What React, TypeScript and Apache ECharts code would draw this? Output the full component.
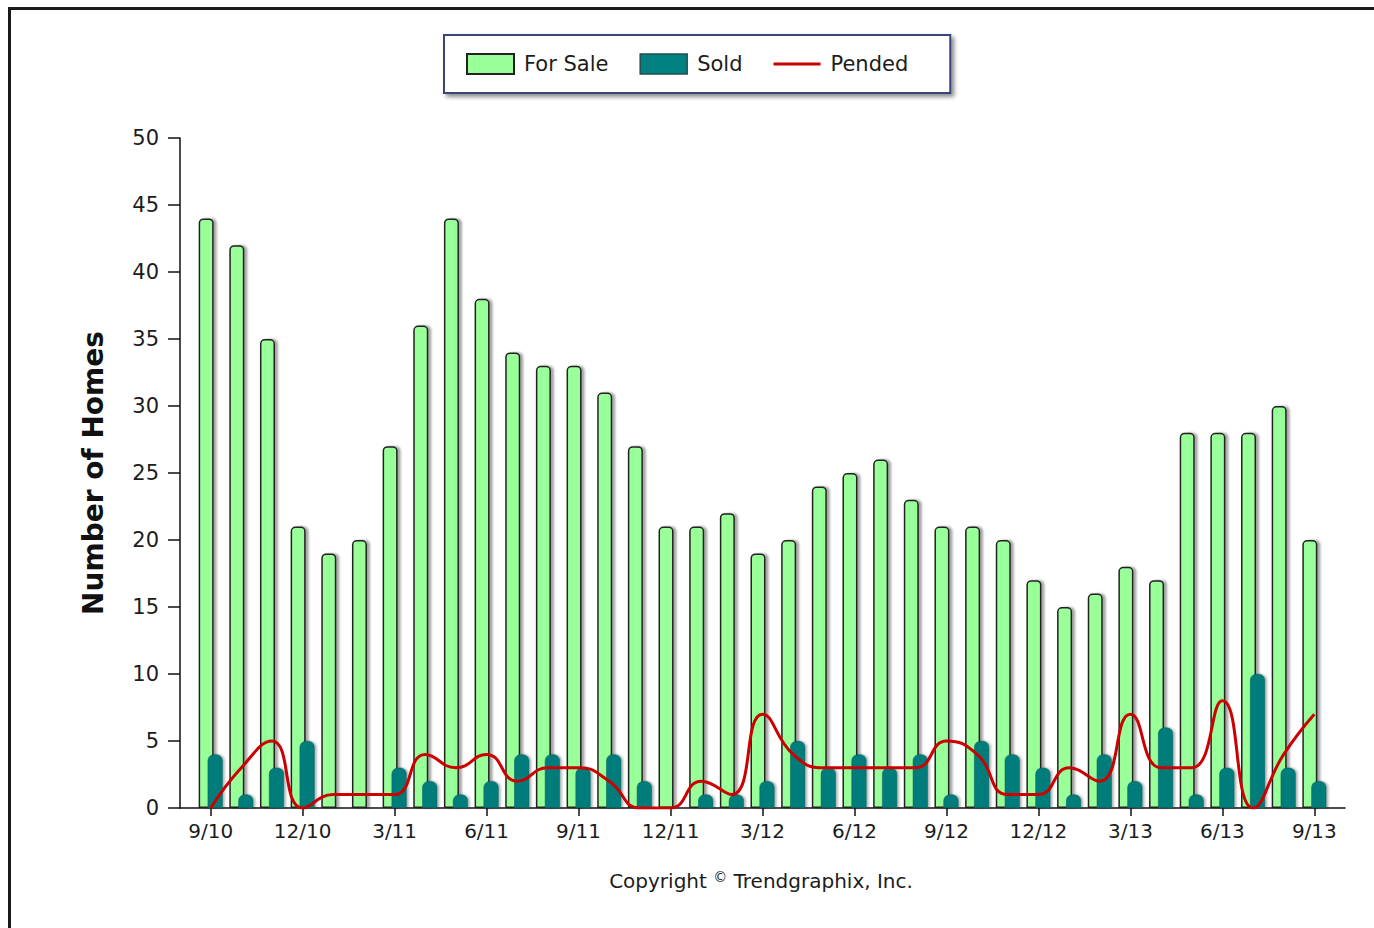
import React, { useEffect, useRef } from "react";
import * as echarts from "echarts";

const months = [
  "9/10", "10/10", "11/10", "12/10", "1/11", "2/11", "3/11", "4/11", "5/11",
  "6/11", "7/11", "8/11", "9/11", "10/11", "11/11", "12/11", "1/12", "2/12",
  "3/12", "4/12", "5/12", "6/12", "7/12", "8/12", "9/12", "10/12", "11/12",
  "12/12", "1/13", "2/13", "3/13", "4/13", "5/13", "6/13", "7/13", "8/13", "9/13",
];

const forSale = [
  44, 42, 35, 21, 19, 20, 27, 36, 44, 38, 34, 33, 33, 31, 27, 21, 21, 22, 19,
  20, 24, 25, 26, 23, 21, 21, 20, 17, 15, 16, 18, 17, 28, 28, 28, 30, 20,
];

const sold = [
  4, 1, 3, 5, 0, 0, 3, 2, 1, 2, 4, 4, 3, 4, 2, 0, 1, 1, 2, 5, 3, 4, 3, 4, 1,
  5, 4, 3, 1, 4, 2, 6, 1, 3, 10, 3, 2,
];

const pended = [
  0, 3, 5, 0, 1, 1, 1, 4, 3, 4, 2, 3, 3, 2, 0, 0, 2, 1, 7, 4, 3, 3, 3, 3, 5,
  4, 1, 1, 3, 2, 7, 3, 3, 8, 0, 4, 7,
];

const yTicks = [0, 5, 10, 15, 20, 25, 30, 35, 40, 45, 50];

const FONT = "DejaVu Sans";
const TEXT = "#1c1c1c";
const LINE_ICON =
  "path://M0,0 L0.01,0 L0,0 Z M0,8.5 L47,8.5 L47,11.5 L0,11.5 Z M0,20 L0.01,20 L0,20 Z";

export default function App() {
  const ref = useRef<HTMLDivElement>(null);

  useEffect(() => {
    if (!ref.current) return;
    const chart = echarts.init(ref.current, undefined, { renderer: "svg" });
    const cats = ["", ...months, ""];
    const pad = (arr: number[]) => ["-", ...arr, "-"] as any[];
    const showIdx = (i: number) => i >= 1 && i <= months.length && (i - 1) % 3 === 0;

    chart.setOption({
      animation: false,
      backgroundColor: "#ffffff",
      textStyle: { fontFamily: FONT },
      grid: { left: 180, right: 29, top: 138, bottom: 120, containLabel: false },
      legend: {
        left: 444,
        top: 35,
        padding: [18, 42, 18, 22],
        itemWidth: 47,
        itemHeight: 20,
        itemGap: 31,
        borderColor: "#34467a",
        borderWidth: 2,
        backgroundColor: "#ffffff",
        shadowColor: "rgba(0,0,0,0.45)",
        shadowBlur: 4,
        shadowOffsetX: 3,
        shadowOffsetY: 3,
        textStyle: { fontFamily: FONT, fontSize: 21, color: TEXT, padding: [0, 0, 0, 5] },
        data: [
          {
            name: "For Sale",
            icon: "rect",
            itemStyle: { color: "#99ff99", borderColor: "#222", borderWidth: 2, shadowBlur: 0, shadowOffsetX: 0, shadowColor: "transparent" },
          },
          {
            name: "Sold",
            icon: "rect",
            itemStyle: { color: "#008080", borderColor: "#1f5050", borderWidth: 1.5, shadowBlur: 0, shadowOffsetX: 0, shadowColor: "transparent" },
          },
          {
            name: "Pended",
            icon: LINE_ICON,
            itemStyle: { color: "#cc0000", borderWidth: 0 },
          },
        ],
      },
      xAxis: {
        type: "category",
        data: cats,
        boundaryGap: false,
        axisLine: { show: true, lineStyle: { color: "#111", width: 1.5 } },
        axisTick: { show: true, length: 8, interval: (i: number) => showIdx(i), lineStyle: { color: "#111", width: 1.5 } },
        axisLabel: {
          interval: (i: number) => showIdx(i),
          fontFamily: FONT,
          fontSize: 20,
          color: TEXT,
          margin: 13,
        },
        splitLine: { show: false },
      },
      yAxis: {
        type: "value",
        min: yTicks[0],
        max: yTicks[yTicks.length - 1],
        interval: 5,
        axisLine: { show: true, lineStyle: { color: "#111", width: 1.5 } },
        axisTick: { show: true, length: 12, lineStyle: { color: "#111", width: 1.5 } },
        axisLabel: { fontFamily: FONT, fontSize: 21, color: TEXT, margin: 21 },
        splitLine: { show: false },
      },
      graphic: [
        { type: "rect", shape: { x: 8, y: 7, width: 1380, height: 3 }, style: { fill: "#1a1a1a" }, silent: true },
        { type: "rect", shape: { x: 8, y: 7, width: 3, height: 930 }, style: { fill: "#1a1a1a" }, silent: true },
        {
          type: "text",
          x: 93,
          y: 473,
          rotation: Math.PI / 2,
          style: {
            text: "Number of Homes",
            fontFamily: FONT,
            fontSize: 28,
            fontWeight: "bold",
            fill: "#111",
            align: "center",
            verticalAlign: "middle",
          },
        },
        {
          type: "text",
          x: 761,
          y: 881,
          style: {
            text: "Copyright {c|©} Trendgraphix, Inc.",
            fontFamily: FONT,
            fontSize: 20,
            fill: TEXT,
            align: "center",
            verticalAlign: "middle",
            rich: {
              c: { fontFamily: FONT, fontSize: 14, fill: TEXT, padding: [0, 0, 8, 0] },
            },
          },
        },
      ],
      series: [
        {
          name: "For Sale",
          type: "bar",
          data: pad(forSale),
          barWidth: 15,
          barGap: "-40%",
          itemStyle: {
            color: "#99ff99",
            borderColor: "#222",
            borderWidth: 1.5,
            borderRadius: [4, 4, 0, 0],
            shadowColor: "rgba(0,0,0,0.35)",
            shadowBlur: 2,
            shadowOffsetX: 3,
            shadowOffsetY: 0,
          },
        },
        {
          name: "Sold",
          type: "bar",
          data: pad(sold),
          barWidth: 15,
          itemStyle: {
            color: "#007d7a",
            borderColor: "#0a5f5c",
            borderWidth: 0.5,
            borderRadius: [6, 6, 0, 0],
            shadowColor: "rgba(0,0,0,0.3)",
            shadowBlur: 2,
            shadowOffsetX: 2,
          },
        },
        {
          name: "Pended",
          type: "line",
          data: pad(pended),
          smooth: 0.5,
          symbol: "none",
          showSymbol: false,
          lineStyle: { color: "#cc0000", width: 3 },
          itemStyle: { color: "#cc0000" },
          z: 5,
        },
      ],
    });

    return () => chart.dispose();
  }, []);

  return (
    <div
      ref={ref}
      style={{ position: "absolute", left: 0, top: 0, width: 1374, height: 928, background: "#fff" }}
    />
  );
}
